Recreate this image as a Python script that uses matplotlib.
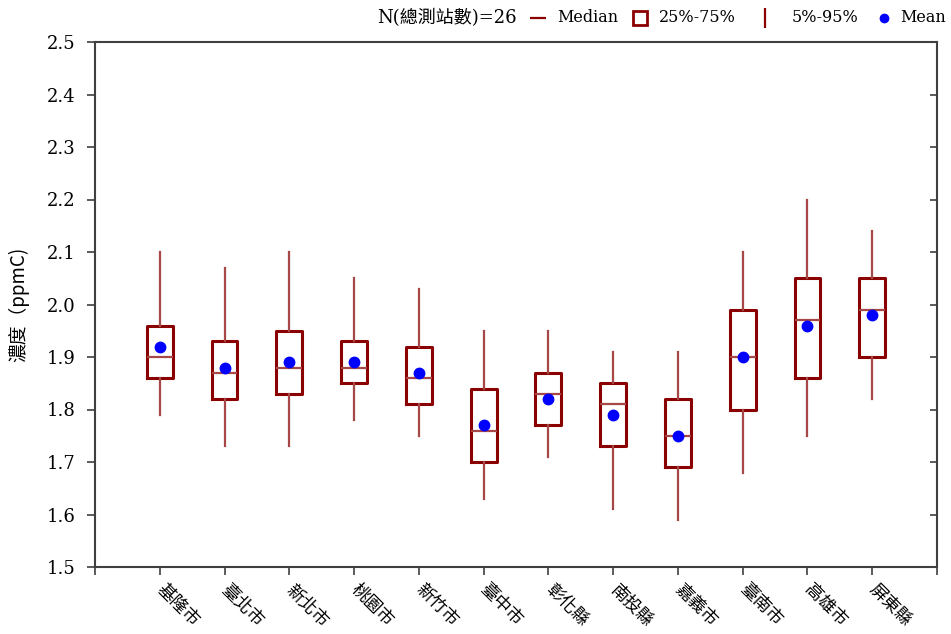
import matplotlib
matplotlib.use("Agg")
import matplotlib.pyplot as plt
from matplotlib.lines import Line2D

# county names
counties = ["基隆市", "臺北市", "新北市", "桃園市", "新竹市", "臺中市",
            "彰化縣", "南投縣", "嘉義市", "臺南市", "高雄市", "屏東縣"]

# percentiles (ppmC)
p05 = [1.79, 1.73, 1.73, 1.78, 1.75, 1.63, 1.71, 1.61, 1.59, 1.68, 1.75, 1.82]
p25 = [1.86, 1.82, 1.83, 1.85, 1.81, 1.70, 1.77, 1.73, 1.69, 1.80, 1.86, 1.90]
p50 = [1.90, 1.87, 1.88, 1.88, 1.86, 1.76, 1.83, 1.81, 1.75, 1.90, 1.97, 1.99]
p75 = [1.96, 1.93, 1.95, 1.93, 1.92, 1.84, 1.87, 1.85, 1.82, 1.99, 2.05, 2.05]
p95 = [2.10, 2.07, 2.10, 2.05, 2.03, 1.95, 1.95, 1.91, 1.91, 2.10, 2.20, 2.14]
means = [1.92, 1.88, 1.89, 1.89, 1.87, 1.77, 1.82, 1.79, 1.75, 1.90, 1.96, 1.98]

n_sites = 26
y_ticks = [1.5, 1.6, 1.7, 1.8, 1.9, 2.0, 2.1, 2.2, 2.3, 2.4, 2.5]

DARKRED = "#8B0000"
WHISK = "#A64848"
LATIN = ["DejaVu Serif", "Noto Sans CJK TC"]
CJK = ["Noto Sans CJK TC", "DejaVu Sans"]

fig = plt.figure(figsize=(9.51, 6.34), dpi=100)
ax = fig.add_axes([95 / 951, 67 / 634, 842 / 951, 525 / 634])

stats = []
for i in range(len(counties)):
    stats.append(dict(med=p50[i], q1=p25[i], q3=p75[i],
                      whislo=p05[i], whishi=p95[i], mean=means[i],
                      fliers=[], label=counties[i]))

positions = list(range(1, len(counties) + 1))
ax.bxp(stats, positions=positions, widths=0.4, showcaps=False,
       showfliers=False, showmeans=True, manage_ticks=False,
       boxprops=dict(color=DARKRED, linewidth=2.2),
       whiskerprops=dict(color=WHISK, linewidth=1.6),
       medianprops=dict(color=WHISK, linewidth=1.6),
       meanprops=dict(marker="o", markerfacecolor="blue",
                      markeredgecolor="blue", markersize=7.5))

ax.set_xlim(0, len(counties) + 1)
ax.set_ylim(1.5, 2.5)

ax.set_yticks(y_ticks)
ax.set_yticklabels([f"{v:.1f}" for v in y_ticks], family=LATIN, fontsize=13)
ax.set_xticks(range(0, len(counties) + 2))
ax.set_xticklabels([""] + counties + [""], family=CJK, fontsize=12.5,
                   rotation=-45, ha="left", va="center", rotation_mode="anchor")

ax.tick_params(axis="y", direction="out", length=6, width=1.2, color="#404040",
               pad=8)
ax.tick_params(axis="x", direction="out", length=6, width=1.2, color="#404040",
               pad=8.5)
ax.tick_params(axis="y", which="both", right=True, labelright=False)
for t in ax.yaxis.get_major_ticks():
    t.tick2line.set_marker(matplotlib.markers.TICKLEFT)
    t.tick2line.set_markersize(5)

for s in ax.spines.values():
    s.set_color("#404040")
    s.set_linewidth(1.5)

ax.set_ylabel("濃度（ppmC)", family=CJK, fontsize=13.5)
ax.yaxis.set_label_coords(-0.078, 0.5)

# legend row above the plot
ty = 1 - 18 / 634
fs = 11.5
fig.text(517 / 951, ty, f"N(總測站數)={n_sites}", family=LATIN, fontsize=13,
         va="center", ha="right")
fig.add_artist(Line2D([538 / 951], [ty], transform=fig.transFigure,
                      marker="_", markersize=12, markeredgewidth=1.6,
                      color=DARKRED, linestyle="None"))
fig.text(557 / 951, ty, "Median", family=LATIN, fontsize=fs, va="center")
fig.add_artist(Line2D([640 / 951], [ty], transform=fig.transFigure,
                      marker="s", markersize=10, markeredgewidth=2,
                      markerfacecolor="white", markeredgecolor=DARKRED,
                      linestyle="None"))
fig.text(659 / 951, ty, "25%-75%", family=LATIN, fontsize=fs, va="center")
fig.add_artist(Line2D([764.5 / 951], [ty], transform=fig.transFigure,
                      marker="|", markersize=14, markeredgewidth=1.6,
                      color=DARKRED, linestyle="None"))
fig.text(792 / 951, ty, "5%-95%", family=LATIN, fontsize=fs, va="center")
fig.add_artist(Line2D([884 / 951], [ty], transform=fig.transFigure,
                      marker="o", markersize=6, color="blue",
                      linestyle="None"))
fig.text(900 / 951, ty, "Mean", family=LATIN, fontsize=fs, va="center")

fig.savefig("out.png", dpi=100)
